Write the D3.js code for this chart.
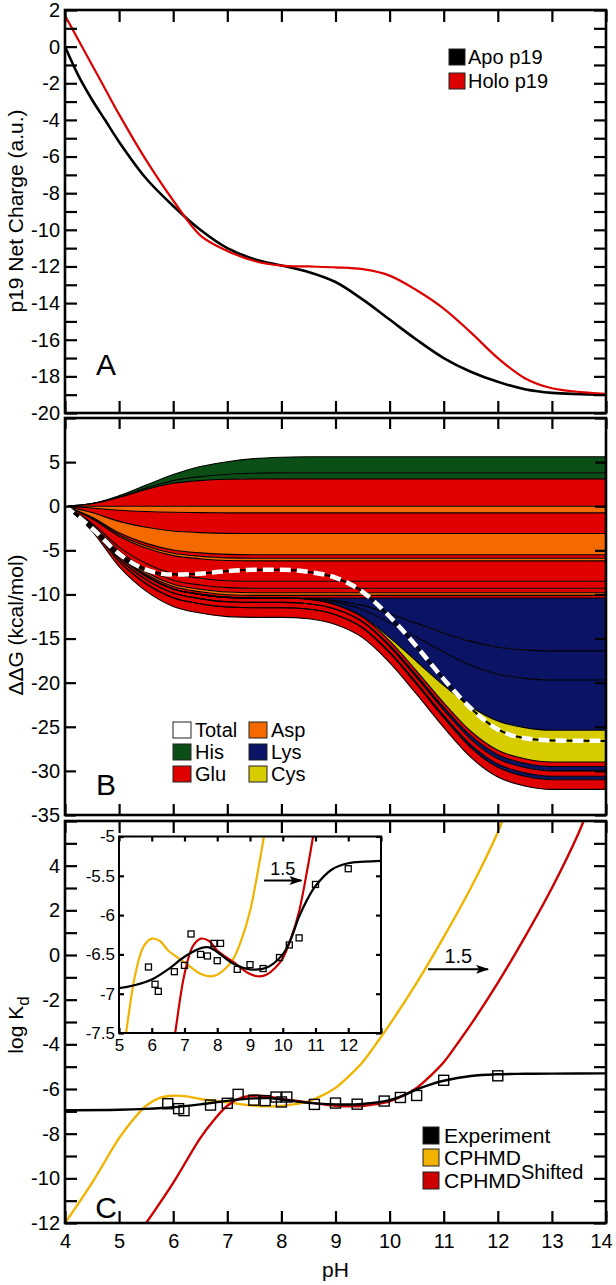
<!DOCTYPE html>
<html>
<head>
<meta charset="utf-8">
<script src="https://cdn.jsdelivr.net/npm/d3@7"></script>
<style>
  body { margin: 0; background: #fff; }
</style>
</head>
<body>
<div id="chart"></div>
<script>
// ---------- Panel A : net charge ----------
const phA = [4, 4.25, 4.5, 4.75, 5, 5.5, 6, 6.5, 7, 7.5, 8, 8.5, 9, 9.5, 10, 10.5, 11, 11.5, 12, 12.5, 13, 14];
const apoCharge = [0, -1.6, -2.9, -4.05, -5.2, -7.2, -8.7, -10.0, -11.0, -11.6, -11.95, -12.3, -12.85, -13.8, -14.9, -16.0, -17.0, -17.75, -18.3, -18.7, -18.9, -19.0];
const holoCharge = [1.7, 0.35, -1.0, -2.35, -3.7, -6.2, -8.4, -10.3, -11.15, -11.7, -11.95, -12.0, -12.05, -12.15, -12.5, -13.3, -14.3, -15.6, -17.0, -18.1, -18.65, -18.95];

// ---------- Panel B : residue contributions to ddG ----------
const phB = [4, 4.5, 5, 5.5, 6, 6.5, 7, 7.5, 8, 8.5, 9, 9.5, 10, 10.5, 11, 11.5, 12, 12.5, 13, 14];
// positive side (stacked upward from 0)
const gluPos = [0, 0.3, 1.0, 1.9, 2.6, 2.9, 3.05, 3.1, 3.1, 3.1, 3.1, 3.1, 3.1, 3.1, 3.1, 3.1, 3.1, 3.1, 3.1, 3.1];
const hisA = [0, 0, 0.05, 0.15, 0.3, 0.45, 0.55, 0.63, 0.68, 0.7, 0.7, 0.7, 0.7, 0.7, 0.7, 0.7, 0.7, 0.7, 0.7, 0.7];
const hisB = [0, 0, 0.15, 0.35, 0.7, 1.15, 1.45, 1.67, 1.77, 1.8, 1.8, 1.8, 1.8, 1.8, 1.8, 1.8, 1.8, 1.8, 1.8, 1.8];
// negative side (stacked downward from 0)
const asp1 = [0, -0.2, -0.45, -0.6, -0.69, -0.73, -0.75, -0.75, -0.75, -0.75, -0.75, -0.75, -0.75, -0.75, -0.75, -0.75, -0.75, -0.75, -0.75, -0.75];
const glu1 = [0, -0.52, -1.27, -1.79, -2.12, -2.26, -2.33, -2.35, -2.35, -2.35, -2.35, -2.35, -2.35, -2.35, -2.35, -2.35, -2.35, -2.35, -2.35, -2.35];
const asp2 = [0, -0.53, -1.3, -1.82, -2.16, -2.3, -2.38, -2.4, -2.4, -2.4, -2.4, -2.4, -2.4, -2.4, -2.4, -2.4, -2.4, -2.4, -2.4, -2.4];
const glu2 = [0, -0.09, -0.22, -0.3, -0.36, -0.38, -0.4, -0.4, -0.4, -0.4, -0.4, -0.4, -0.4, -0.4, -0.4, -0.4, -0.4, -0.4, -0.4, -0.4];
const asp3 = [0, -0.07, -0.16, -0.23, -0.27, -0.29, -0.3, -0.3, -0.3, -0.3, -0.3, -0.3, -0.3, -0.3, -0.3, -0.3, -0.3, -0.3, -0.3, -0.3];
const glu3 = [0, -0.5, -1.24, -1.75, -2.07, -2.2, -2.28, -2.3, -2.3, -2.3, -2.3, -2.3, -2.3, -2.3, -2.3, -2.3, -2.3, -2.3, -2.3, -2.3];
const glu4 = [0, -0.18, -0.43, -0.61, -0.72, -0.77, -0.79, -0.8, -0.8, -0.8, -0.8, -0.8, -0.8, -0.8, -0.8, -0.8, -0.8, -0.8, -0.8, -0.8];
const glu5 = [0, -0.11, -0.27, -0.38, -0.45, -0.48, -0.5, -0.5, -0.5, -0.5, -0.5, -0.5, -0.5, -0.5, -0.5, -0.5, -0.5, -0.5, -0.5, -0.5];
const asp4 = [0, -0.07, -0.16, -0.23, -0.27, -0.29, -0.3, -0.3, -0.3, -0.3, -0.3, -0.3, -0.3, -0.3, -0.3, -0.3, -0.3, -0.3, -0.3, -0.3];
const glu6 = [0, -0.07, -0.16, -0.23, -0.27, -0.29, -0.3, -0.3, -0.3, -0.3, -0.3, -0.3, -0.3, -0.3, -0.3, -0.3, -0.3, -0.3, -0.3, -0.3];
const lys1 = [0, 0, 0, 0, 0, 0, 0, 0, 0, -0.06, -0.3, -0.84, -1.8, -2.88, -3.96, -4.92, -5.58, -5.88, -6.0, -6.0];
const lys2 = [0, 0, 0, 0, 0, 0, 0, 0, 0, -0.03, -0.17, -0.46, -0.99, -1.58, -2.18, -2.71, -3.07, -3.23, -3.3, -3.3];
const lys3 = [0, 0, 0, 0, 0, 0, 0, 0, 0, -0.06, -0.29, -0.8, -1.71, -2.74, -3.76, -4.67, -5.3, -5.59, -5.7, -5.7];
const cys1 = [0, 0, 0, 0, 0, 0, 0, 0, 0, 0, 0, -0.07, -0.36, -1.08, -1.98, -2.81, -3.31, -3.53, -3.6, -3.6];
const glu7 = [0, -0.11, -0.27, -0.38, -0.45, -0.48, -0.5, -0.5, -0.5, -0.5, -0.5, -0.5, -0.5, -0.5, -0.5, -0.5, -0.5, -0.5, -0.5, -0.5];
const lys4 = [0, 0, 0, 0, 0, 0, 0, 0, 0, 0, -0.03, -0.07, -0.15, -0.24, -0.33, -0.41, -0.47, -0.49, -0.5, -0.5];
const glu8 = [0, -0.13, -0.32, -0.46, -0.54, -0.58, -0.59, -0.6, -0.6, -0.6, -0.6, -0.6, -0.6, -0.6, -0.6, -0.6, -0.6, -0.6, -0.6, -0.6];
const lys5 = [0, 0, 0, 0, 0, 0, 0, 0, 0, 0, -0.02, -0.06, -0.12, -0.19, -0.26, -0.33, -0.37, -0.39, -0.4, -0.4];
const glu9 = [0, -0.24, -0.59, -0.84, -0.99, -1.06, -1.09, -1.1, -1.1, -1.1, -1.1, -1.1, -1.1, -1.1, -1.1, -1.1, -1.1, -1.1, -1.1, -1.1];
// total (white dashed)
const totalDG = [0, -2.5, -5.4, -7.2, -7.75, -7.65, -7.35, -7.2, -7.2, -7.45, -8.1, -9.7, -12.5, -15.9, -19.6, -22.9, -25.3, -26.3, -26.55, -26.6];

// ---------- Panel C : log Kd ----------
const phFit = [4, 5, 5.5, 6, 6.5, 7, 7.5, 7.75, 8, 8.5, 9, 9.5, 10, 10.25, 10.5, 10.75, 11, 11.5, 12, 12.5, 13, 14];
const logKdFit = [-6.95, -6.93, -6.89, -6.82, -6.69, -6.53, -6.42, -6.41, -6.47, -6.62, -6.69, -6.67, -6.5, -6.3, -6.02, -5.8, -5.63, -5.42, -5.34, -5.32, -5.31, -5.3];
const phExp = [5.9, 6.1, 6.2, 6.69, 7.0, 7.2, 7.49, 7.7, 7.9, 8.0, 8.1, 8.61, 9.0, 9.4, 9.9, 10.2, 10.5, 11.0, 12.0];
const logKdExp = [-6.66, -6.88, -6.97, -6.72, -6.64, -6.24, -6.5, -6.52, -6.36, -6.58, -6.36, -6.69, -6.63, -6.68, -6.54, -6.38, -6.29, -5.61, -5.41];
const phCphmd = [4, 4.5, 5, 5.25, 5.5, 5.75, 6, 6.25, 6.5, 7, 7.5, 7.8, 8, 8.25, 8.5, 8.75, 9, 9.25, 9.5, 9.75, 10, 10.5, 11, 11.5, 12, 12.1];
const logKdCphmd = [-12.0, -10.2, -8.2, -7.4, -6.75, -6.4, -6.3, -6.33, -6.45, -6.6, -6.75, -6.78, -6.76, -6.68, -6.55, -6.3, -5.95, -5.42, -4.8, -3.98, -3.12, -1.25, 0.8, 3.0, 5.5, 6.1];
const phShifted = [5.5, 6, 6.5, 6.75, 7, 7.25, 7.5, 7.75, 8, 8.5, 9, 9.3, 9.5, 9.75, 10, 10.25, 10.5, 10.75, 11, 11.25, 11.5, 12, 12.5, 13, 13.5, 13.6];
const logKdShifted = [-12.0, -10.2, -8.2, -7.4, -6.75, -6.4, -6.3, -6.33, -6.45, -6.6, -6.75, -6.78, -6.76, -6.68, -6.55, -6.3, -5.95, -5.42, -4.8, -3.98, -3.12, -1.25, 0.8, 3.0, 5.5, 6.1];

// ---------- styling ----------
const FONT = "'Liberation Sans', Arial, Helvetica, sans-serif";
const W = 616, H = 1285;
const colors = {
  His: "#0b4f16", Glu: "#e00000", Asp: "#f56a00", Lys: "#0b1464", Cys: "#d6cc00",
  apo: "#000", holo: "#dd0000", exp: "#000", cphmd: "#f2b300", shifted: "#cc0000"
};

const posBands = [
  { key: "gluPos", cat: "Glu", vals: gluPos },
  { key: "hisA", cat: "His", vals: hisA },
  { key: "hisB", cat: "His", vals: hisB }
];
const negBands = [
  { key: "asp1", cat: "Asp", vals: asp1 }, { key: "glu1", cat: "Glu", vals: glu1 },
  { key: "asp2", cat: "Asp", vals: asp2 }, { key: "glu2", cat: "Glu", vals: glu2 },
  { key: "asp3", cat: "Asp", vals: asp3 }, { key: "glu3", cat: "Glu", vals: glu3 },
  { key: "glu4", cat: "Glu", vals: glu4 }, { key: "glu5", cat: "Glu", vals: glu5 },
  { key: "asp4", cat: "Asp", vals: asp4 }, { key: "glu6", cat: "Glu", vals: glu6 },
  { key: "lys1", cat: "Lys", vals: lys1 }, { key: "lys2", cat: "Lys", vals: lys2 },
  { key: "lys3", cat: "Lys", vals: lys3 }, { key: "cys1", cat: "Cys", vals: cys1 },
  { key: "glu7", cat: "Glu", vals: glu7 }, { key: "lys4", cat: "Lys", vals: lys4 },
  { key: "glu8", cat: "Glu", vals: glu8 }, { key: "lys5", cat: "Lys", vals: lys5 },
  { key: "glu9", cat: "Glu", vals: glu9 }
];

const svg = d3.select("#chart").append("svg")
  .attr("width", W).attr("height", H)
  .style("font-family", FONT);

const x = d3.scaleLinear().domain([4, 14]).range([65, 606]);
const yA = d3.scaleLinear().domain([-20, 2]).range([413, 10]);
const yB = d3.scaleLinear().domain([-35, 10]).range([815, 418]);
const yC = d3.scaleLinear().domain([-12, 6]).range([1223, 821]);
const xI = d3.scaleLinear().domain([5, 13]).range([119, 381]);
const yI = d3.scaleLinear().domain([-7.5, -5]).range([1033, 836.5]);

const defs = svg.append("defs");
function clip(id, xs, ys) {
  defs.append("clipPath").attr("id", id).append("rect")
    .attr("x", xs.range()[0]).attr("y", ys.range()[1])
    .attr("width", xs.range()[1] - xs.range()[0])
    .attr("height", ys.range()[0] - ys.range()[1]);
}
clip("clipA", x, yA); clip("clipB", x, yB); clip("clipC", x, yC); clip("clipI", xI, yI);

defs.append("marker").attr("id", "arrow")
  .attr("viewBox", "0 0 13 9").attr("refX", 12).attr("refY", 4.5)
  .attr("markerWidth", 13).attr("markerHeight", 9)
  .attr("markerUnits", "userSpaceOnUse").attr("orient", "auto")
  .append("path").attr("d", "M0,0 L13,4.5 L0,9 L3,4.5 Z").attr("fill", "#000");

function styleAxis(g, fs) {
  g.attr("font-family", FONT);
  g.select(".domain").remove();
  g.selectAll(".tick line").attr("stroke", "#000").attr("stroke-width", 2.2);
  g.selectAll(".tick text").attr("fill", "#000").attr("font-size", fs);
}

// frame with inward ticks on four sides
function frame(xs, ys, yTicks, yLabel, xTicks, xLabel, tickLen, fs, sw, padL, padB) {
  const [x0, x1] = xs.range();
  const [yb, yt] = ys.range();
  svg.append("g").attr("transform", `translate(${x0},0)`)
    .call(d3.axisLeft(ys).tickValues(yTicks).tickSizeInner(-tickLen).tickSizeOuter(0)
      .tickPadding(padL).tickFormat(d => yLabel(d) ? String(d) : ""))
    .call(styleAxis, fs);
  svg.append("g").attr("transform", `translate(${x1},0)`)
    .call(d3.axisRight(ys).tickValues(yTicks).tickSizeInner(-tickLen).tickSizeOuter(0).tickFormat(""))
    .call(styleAxis, fs);
  svg.append("g").attr("transform", `translate(0,${yt})`)
    .call(d3.axisTop(xs).tickValues(xTicks).tickSizeInner(-tickLen).tickSizeOuter(0).tickFormat(""))
    .call(styleAxis, fs);
  const bottom = svg.append("g").attr("transform", `translate(0,${yb})`)
    .call(d3.axisBottom(xs).tickValues(xTicks).tickSizeInner(-tickLen).tickSizeOuter(0)
      .tickPadding(padB).tickFormat(d => xLabel(d) ? String(d) : ""))
    .call(styleAxis, fs);
  svg.append("rect").attr("x", x0).attr("y", yt)
    .attr("width", x1 - x0).attr("height", yb - yt)
    .attr("fill", "none").attr("stroke", "#000").attr("stroke-width", sw);
  return bottom;
}

function curve(g, xs, ys, px, py, color, width, clipId) {
  g.append("path")
    .datum(px.map((p, i) => [p, py[i]]))
    .attr("clip-path", `url(#${clipId})`)
    .attr("fill", "none").attr("stroke", color).attr("stroke-width", width)
    .attr("stroke-linejoin", "round")
    .attr("d", d3.line().x(d => xs(d[0])).y(d => ys(d[1])).curve(d3.curveCatmullRom.alpha(0.5)));
}

function swatch(g, sx, sy, w, h, fill, label, tx, fs) {
  g.append("rect").attr("x", sx).attr("y", sy).attr("width", w).attr("height", h)
    .attr("fill", fill).attr("stroke", "#222").attr("stroke-width", 1);
  if (label) g.append("text").attr("x", tx).attr("y", sy + h - 1)
    .attr("font-size", fs).attr("fill", "#000").text(label);
}

const xTicks = d3.range(4, 15);

// ================= Panel A =================
const gA = svg.append("g");
curve(gA, x, yA, phA, apoCharge, colors.apo, 2.6, "clipA");
curve(gA, x, yA, phA, holoCharge, colors.holo, 2.2, "clipA");
frame(x, yA, d3.range(-20, 3), d => d % 2 === 0, xTicks, () => false, 12, 20, 2.6, 5, 8);

const legA = svg.append("g");
swatch(legA, 449, 49, 16, 16, colors.apo, "Apo p19", 468, 20);
swatch(legA, 449, 73, 16, 16, colors.holo, "Holo p19", 468, 20);
svg.append("text").attr("x", 106).attr("y", 375).attr("text-anchor", "middle")
  .attr("font-size", 30).text("A");

// ================= Panel B =================
const gB = svg.append("g").attr("clip-path", "url(#clipB)");
const rowsB = phB.map((p, i) => {
  const r = { pH: p };
  posBands.concat(negBands).forEach(b => { r[b.key] = b.vals[i]; });
  return r;
});
const posStack = d3.stack().keys(posBands.map(b => b.key))(rowsB);
const negStack = d3.stack().keys(negBands.map(b => b.key))(rowsB);
const areaB = d3.area().x(d => x(d.data.pH)).y0(d => yB(d[0])).y1(d => yB(d[1])).curve(d3.curveMonotoneX);
const edgeB = d3.line().x(d => x(d.data.pH)).y(d => yB(d[1])).curve(d3.curveMonotoneX);

[[posStack, posBands], [negStack, negBands]].forEach(([stack, bands]) => {
  gB.selectAll(null).data(stack).enter().append("path")
    .attr("fill", (s, i) => colors[bands[i].cat])
    .attr("d", areaB);
  gB.selectAll(null).data(stack).enter().append("path")
    .attr("fill", "none").attr("stroke", "#000").attr("stroke-width", 1.1)
    .attr("d", edgeB);
});
gB.append("line").attr("x1", x(4)).attr("x2", x(14)).attr("y1", yB(0)).attr("y2", yB(0))
  .attr("stroke", "#000").attr("stroke-width", 1.1);

const totalPts = phB.map((p, i) => [p, totalDG[i]]);
const totalLine = d3.line().x(d => x(d[0])).y(d => yB(d[1])).curve(d3.curveMonotoneX);
gB.append("path").datum(totalPts).attr("fill", "none").attr("stroke", "#000")
  .attr("stroke-width", 2).attr("d", totalLine);
gB.append("path").datum(totalPts).attr("fill", "none").attr("stroke", "#fff")
  .attr("stroke-width", 4.5).attr("stroke-dasharray", "11,6").attr("d", totalLine);

frame(x, yB, d3.range(-35, 11, 5), d => d !== 10, xTicks, () => false, 11, 20, 2.6, 5, 8);

const legB = svg.append("g");
swatch(legB, 173, 722, 18, 16, "#fff", "Total", 195, 20);
swatch(legB, 173, 744, 18, 16, colors.His, "His", 195, 20);
swatch(legB, 173, 766, 18, 16, colors.Glu, "Glu", 195, 20);
swatch(legB, 249, 722, 18, 16, colors.Asp, "Asp", 271, 20);
swatch(legB, 249, 744, 18, 16, colors.Lys, "Lys", 271, 20);
swatch(legB, 249, 766, 18, 16, colors.Cys, "Cys", 271, 20);
svg.append("text").attr("x", 106).attr("y", 795).attr("text-anchor", "middle")
  .attr("font-size", 30).text("B");

// ================= Panel C =================
const gC = svg.append("g");
curve(gC, x, yC, phCphmd, logKdCphmd, colors.cphmd, 2.4, "clipC");
curve(gC, x, yC, phShifted, logKdShifted, colors.shifted, 2.4, "clipC");
curve(gC, x, yC, phFit, logKdFit, colors.exp, 2.4, "clipC");
gC.selectAll(null).data(phExp).enter().append("rect")
  .attr("x", d => x(d) - 5).attr("y", (d, i) => yC(logKdExp[i]) - 5)
  .attr("width", 10).attr("height", 10)
  .attr("fill", "none").attr("stroke", "#000").attr("stroke-width", 1.4);

const bottomC = frame(x, yC, d3.range(-12, 7), d => d % 2 === 0 && d !== 6, xTicks, () => true, 12, 20, 2.6, 5, 11);
// keep the last pH label inside the page
bottomC.selectAll(".tick text").filter(d => d === 14).attr("dx", -5);

// main arrow
svg.append("line").attr("x1", x(10.71)).attr("x2", x(11.82)).attr("y1", yC(-0.64)).attr("y2", yC(-0.64))
  .attr("stroke", "#000").attr("stroke-width", 2).attr("marker-end", "url(#arrow)");
svg.append("text").attr("x", x(11.27)).attr("y", yC(-0.37)).attr("text-anchor", "middle")
  .attr("font-size", 20).text("1.5");

// inset
const gI = svg.append("g");
gI.append("rect").attr("x", xI.range()[0]).attr("y", yI.range()[1])
  .attr("width", xI.range()[1] - xI.range()[0]).attr("height", yI.range()[0] - yI.range()[1])
  .attr("fill", "#fff");
curve(gI, xI, yI, phCphmd, logKdCphmd, colors.cphmd, 2.2, "clipI");
curve(gI, xI, yI, phShifted, logKdShifted, colors.shifted, 2.2, "clipI");
curve(gI, xI, yI, phFit, logKdFit, colors.exp, 2.2, "clipI");
gI.selectAll(null).data(phExp).enter().append("rect")
  .attr("x", d => xI(d) - 3).attr("y", (d, i) => yI(logKdExp[i]) - 3)
  .attr("width", 6).attr("height", 6)
  .attr("fill", "none").attr("stroke", "#000").attr("stroke-width", 1.3);
frame(xI, yI, [-7.5, -7, -6.5, -6, -5.5, -5], () => true, d3.range(5, 14), d => d <= 12, 5, 17, 2, 4, 6);
svg.append("line").attr("x1", xI(9.43)).attr("x2", xI(10.57)).attr("y1", yI(-5.56)).attr("y2", yI(-5.56))
  .attr("stroke", "#000").attr("stroke-width", 2).attr("marker-end", "url(#arrow)");
svg.append("text").attr("x", xI(10.0)).attr("y", yI(-5.49)).attr("text-anchor", "middle")
  .attr("font-size", 18).text("1.5");

const legC = svg.append("g");
swatch(legC, 423, 1127, 16, 17, colors.exp, "Experiment", 444, 21);
swatch(legC, 423, 1149, 16, 17, colors.cphmd, "CPHMD", 444, 21);
swatch(legC, 423, 1172, 16, 17, colors.shifted, null, 444, 21);
const t3 = legC.append("text").attr("x", 444).attr("y", 1188).attr("font-size", 21);
t3.append("tspan").text("CPHMD");
t3.append("tspan").attr("dy", -9).attr("font-size", 20).text("Shifted");
svg.append("text").attr("x", 106).attr("y", 1218).attr("text-anchor", "middle")
  .attr("font-size", 30).text("C");

// ---------- axis titles ----------
function yTitle(cy, build) {
  const t = svg.append("text").attr("transform", `translate(23,${cy}) rotate(-90)`)
    .attr("text-anchor", "middle").attr("font-size", 21).attr("fill", "#000");
  build(t);
}
yTitle(211, t => t.text("p19 Net Charge (a.u.)"));
yTitle(625, t => t.text("\u0394\u0394G (kcal/mol)"));
yTitle(1025, t => {
  t.append("tspan").text("log K");
  t.append("tspan").attr("dy", 6).attr("font-size", 17).text("d");
});
svg.append("text").attr("x", 335.5).attr("y", 1277).attr("text-anchor", "middle")
  .attr("font-size", 21).text("pH");
</script>
</body>
</html>
